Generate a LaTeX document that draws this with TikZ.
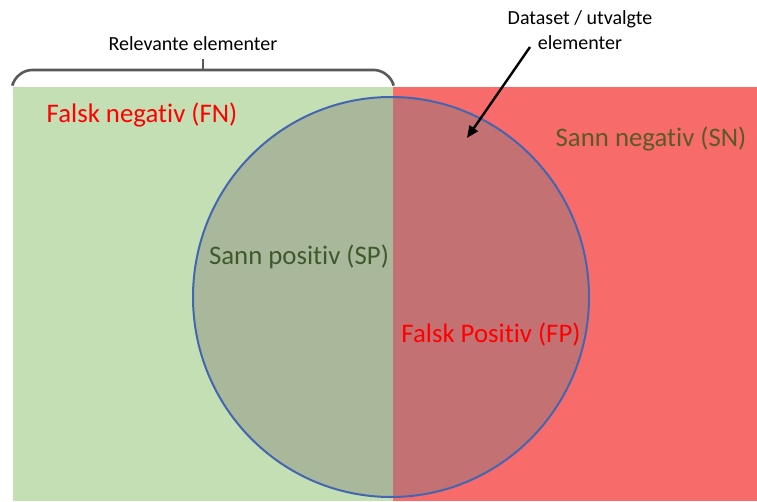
\documentclass[tikz,border=0pt]{standalone}
\usepackage{fontspec}
\setmainfont[Ligatures=NoCommon]{Carlito}
\usepackage{tikz}
\usetikzlibrary{arrows.meta,calc,positioning}
\definecolor{relgreen}{HTML}{C5DFB4}
\definecolor{negred}{HTML}{F76B6A}
\definecolor{spfill}{HTML}{A9B89B}
\definecolor{fpfill}{HTML}{C47173}
\definecolor{ringblue}{HTML}{4466B0}
\definecolor{spgreen}{HTML}{3E5A2C}
\definecolor{snolive}{HTML}{5C5A24}
\definecolor{bracegray}{HTML}{595959}
\tikzset{
  region/.style={font=\fontsize{26.8}{30}\selectfont,inner sep=0pt},
  note/.style={font=\fontsize{20}{25}\selectfont,align=center,inner sep=0pt}
}
\begin{document}
\begin{tikzpicture}[x=1pt,y=-1pt]
\useasboundingbox (0,0) rectangle (757,501);
\fill[relgreen] (13,87) rectangle (393,501);
\fill[negred] (393,87) rectangle (757,501);
\begin{scope}
  \clip (13,0) rectangle (393,501);
  \fill[spfill] (391,297) ellipse [x radius=198,y radius=200];
\end{scope}
\begin{scope}
  \clip (393,0) rectangle (757,501);
  \fill[fpfill] (391,297) ellipse [x radius=198,y radius=200];
\end{scope}
\draw[ringblue,line width=2pt] (391,297) ellipse [x radius=198,y radius=200];
% brace over the relevant part
\draw[bracegray,line width=2.6pt,rounded corners=16pt] (13,83)--(16,70)--(390,70)--(393,83);
\draw[bracegray,line width=2.6pt] (203,70)--(203,59);
\node[note] (rel) at (193,44) {Relevante elementer};
\node[note] (ds) at (580,30) {Dataset / utvalgte\\elementer};
\coordinate (dsfoot) at (530,47);
\coordinate (dstip) at (467,138);
\draw[-{Triangle[length=12pt,width=10pt]},line width=2.4pt] (dsfoot)--(dstip);
\foreach \x/\y/\col/\nm/\lab in {142/115/red/fn/{Falsk negativ (FN)},651/139/snolive/sn/{Sann negativ (SN)},299/257/spgreen/sp/{Sann positiv (SP)},491/335/red/fp/{Falsk Positiv (FP)}}{
  \node[region,text=\col] (\nm) at (\x,\y) {\lab};
}
\end{tikzpicture}
\end{document}
